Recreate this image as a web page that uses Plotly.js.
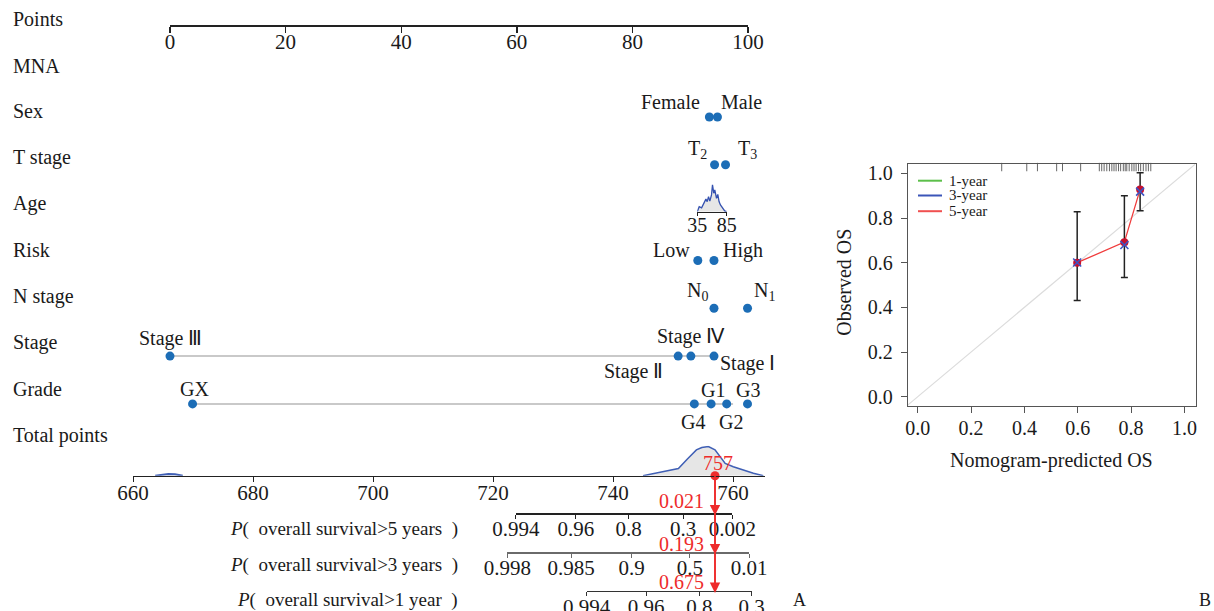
<!DOCTYPE html>
<html>
<head>
<meta charset="utf-8">
<script src="https://cdn.plot.ly/plotly-3.0.1.min.js"></script>
<style>html,body{margin:0;padding:0;background:#fff;}#chart{width:1214px;height:611px;}</style>
</head>
<body>
<div id="chart"></div>
<script>
// ---------------- DATA ----------------
const rowNames = ['Points','MNA','Sex','T stage','Age','Risk','N stage','Stage','Grade','Total points'];
const pointsTicks = [0, 20, 40, 60, 80, 100];

const sexLevels = ['Female', 'Male'];
const sexPoints = [93.3, 94.7];
const tLevels = ['T<sub>2</sub>', 'T<sub>3</sub>'];
const tPoints = [94.2, 96.1];
const riskLevels = ['Low', 'High'];
const riskPoints = [91.3, 94.1];
const nLevels = ['N<sub>0</sub>', 'N<sub>1</sub>'];
const nPoints = [94.1, 99.9];
const stageLevels = ['Stage Ⅲ', 'Stage Ⅱ', 'Stage Ⅳ', 'Stage Ⅰ'];
const stagePoints = [0, 87.9, 90.1, 94.1];
const gradeLevels = ['GX', 'G4', 'G1', 'G2', 'G3'];
const gradePoints = [3.9, 90.7, 93.6, 96.3, 99.9];
const gradeSpan = [3.9, 97.4];

const ageTicks = [35, 85];
const ageAxisPoints = [91.2, 96.3];
const ageGrid = [35, 38.4, 42.4, 46.3, 49.7, 51.9, 54.2, 56.4, 59.2, 60.9, 63.1, 64.8, 67.7, 69.9, 72, 74.4, 77.8, 81.6, 85];
const ageDensity = [0, 0.18, 0.14, 0.30, 0.45, 0.36, 0.54, 0.38, 0.60, 0.96, 0.66, 0.78, 0.48, 0.62, 0.36, 0.24, 0.12, 0.03, 0];

const totalTicks = [660, 680, 700, 720, 740, 760];
const totalDensLowX = [663.7, 665, 665.9, 667, 668.3];
const totalDensLowY = [0, 0.05, 0.06, 0.05, 0];
const totalDensX = [745.0, 747.8, 750.9, 752.4, 753.9, 754.8, 755.9, 757.0, 757.8, 758.7, 760.05, 761.7, 763.4, 765.05];
const totalDensY = [0, 0.11, 0.24, 0.56, 0.86, 0.94, 0.97, 0.86, 0.63, 0.41, 0.30, 0.19, 0.08, 0];

const prob5Labels = ['0.994', '0.96', '0.8', '0.3', '0.002'];
const prob5Points = [723.8, 733.8, 742.6, 751.7, 759.9];
const prob3Labels = ['0.998', '0.985', '0.9', '0.5', '0.01'];
const prob3Points = [722.4, 733.0, 743.1, 752.8, 762.7];
const prob1Labels = ['0.994', '0.96', '0.8', '0.3'];
const prob1Points = [735.6, 745.5, 754.4, 763.1];
const probTitles = ['(  overall survival>5 years  )', '(  overall survival>3 years  )', '(  overall survival>1 year  )'];

const totalScore = 757;
const predictedProbs = [0.021, 0.193, 0.675];

const calPred = [0.598, 0.775, 0.834];
const cal5Obs = [0.600, 0.692, 0.928];
const cal3Obs = [0.601, 0.679, 0.918];
const calLower = [0.431, 0.534, 0.833];
const calUpper = [0.828, 0.900, 1.003];
const rugPred = [0.315, 0.409, 0.449, 0.521, 0.543, 0.611, 0.681, 0.690, 0.699, 0.709, 0.719, 0.728, 0.736, 0.744, 0.753, 0.761, 0.771, 0.778, 0.784, 0.793, 0.803, 0.811, 0.819, 0.828, 0.836, 0.846, 0.856, 0.865, 0.874];
const calTicks = [0, 0.2, 0.4, 0.6, 0.8, 1.0];
const legendNames = ['1-year', '3-year', '5-year'];

// ---------------- LAYOUT HELPERS ----------------
const W = 1214, H = 611;
const X = px => px / W;
const Y = py => 1 - py / H;
const FONT = '"Liberation Serif", "Times New Roman", serif';
const TXT = '#1a1a1a';
const DOT = '#1c6db6';
const PX0 = 170, PXS = 5.781;
const pxPts = p => PX0 + p * PXS;
const TP0 = 660, TPX0 = 133, TPS = 6.0;
const pxTot = t => TPX0 + (t - TP0) * TPS;
const ROW0 = 21.3, ROWS = 47.83;
const rowOf = name => rowNames.indexOf(name);
const STANDOFF = -8;

const labelRowPx = [19, 66, 111, 157, 204, 250, 296, 342.7, 389.3, 435];

const labelPlace = {
  'Female': ['right', -7.6, -15], 'Male': ['left', 2, -15],
  'T<sub>2</sub>': ['right', -6, -15], 'T<sub>3</sub>': ['left', 10, -15],
  'Low': ['right', -6, -10], 'High': ['left', 7, -10],
  'N<sub>0</sub>': ['right', -4, -16.6], 'N<sub>1</sub>': ['left', 4, -16.6],
  'Stage Ⅲ': ['center', 0, -17.7], 'Stage Ⅳ': ['center', 0, -20],
  'Stage Ⅱ': ['right', -13, 15.7], 'Stage Ⅰ': ['left', 4, 7.3],
  'GX': ['center', 2, -15], 'G1': ['center', 1.5, -14], 'G3': ['center', 0, -14],
  'G4': ['center', -1, 17.7], 'G2': ['center', 4, 18.4]
};

const vars = [
  ['Sex', sexLevels, sexPoints],
  ['T stage', tLevels, tPoints],
  ['Risk', riskLevels, riskPoints],
  ['N stage', nLevels, nPoints],
  ['Stage', stageLevels, stagePoints],
  ['Grade', gradeLevels, gradePoints]
];

const traces = [];
const annotations = [];
const shapes = [];

rowNames.forEach((n, i) => {
  annotations.push({text: n, xref: 'paper', yref: 'paper', x: X(11), y: Y(labelRowPx[i]),
    xanchor: 'left', yanchor: 'middle', showarrow: false, font: {family: FONT, size: 20, color: TXT}});
});

traces.push({x: [Math.min(...stagePoints), Math.max(...stagePoints)], y: [rowOf('Stage'), rowOf('Stage')],
  xaxis: 'x', yaxis: 'y', mode: 'lines', line: {color: '#c9c9c9', width: 2}, hoverinfo: 'skip', showlegend: false, cliponaxis: false});
traces.push({x: gradeSpan, y: [rowOf('Grade'), rowOf('Grade')],
  xaxis: 'x', yaxis: 'y', mode: 'lines', line: {color: '#c9c9c9', width: 2}, hoverinfo: 'skip', showlegend: false, cliponaxis: false});

const dx = [], dy = [];
vars.forEach(([name, levels, pts]) => {
  const r = rowOf(name);
  levels.forEach((lv, i) => {
    dx.push(pts[i]); dy.push(r);
    const pl = labelPlace[lv];
    annotations.push({text: lv, xref: 'x', yref: 'y', x: pts[i], y: r, xshift: pl[1], yshift: -pl[2],
      xanchor: pl[0], yanchor: 'middle', showarrow: false, font: {family: FONT, size: 20, color: TXT}});
  });
});
traces.push({x: dx, y: dy, xaxis: 'x', yaxis: 'y', mode: 'markers',
  marker: {color: DOT, size: 9}, hoverinfo: 'skip', showlegend: false, cliponaxis: false});

traces.push({x: ageGrid, y: ageDensity, xaxis: 'x7', yaxis: 'y7', mode: 'lines', fill: 'tozeroy',
  fillcolor: '#e6e6e6', line: {color: '#3552b0', width: 1.3}, hoverinfo: 'skip', showlegend: false});

traces.push({x: totalDensLowX, y: totalDensLowY, xaxis: 'x2', yaxis: 'y2', mode: 'lines', fill: 'tozeroy',
  fillcolor: '#e6e6e6', line: {color: '#3f5fb5', width: 2}, hoverinfo: 'skip', showlegend: false, cliponaxis: false});
traces.push({x: totalDensX, y: totalDensY, xaxis: 'x2', yaxis: 'y2', mode: 'lines', fill: 'tozeroy',
  fillcolor: '#e6e6e6', line: {color: '#3f5fb5', width: 1.5}, hoverinfo: 'skip', showlegend: false, cliponaxis: false});

const probAxes = [
  ['x3', prob5Labels, prob5Points, 513.3, '#222'],
  ['x4', prob3Labels, prob3Points, 552.3, '#6a6a6a'],
  ['x5', prob1Labels, prob1Points, 591.0, '#333']
];
probAxes.forEach(([ax, lab, pts]) => {
  traces.push({x: [pts[0]], y: [0], xaxis: ax, yaxis: 'y', mode: 'markers', marker: {opacity: 0},
    hoverinfo: 'skip', showlegend: false});
});

const totalAxisPy = 475.7;
shapes.push({type: 'line', xref: 'x2', yref: 'paper', x0: totalScore, x1: totalScore,
  y0: Y(totalAxisPy), y1: Y(591), line: {color: '#ee2b2b', width: 1.6}});
traces.push({x: [totalScore], y: [0], xaxis: 'x2', yaxis: 'y2', mode: 'markers',
  marker: {color: '#ee2b2b', size: 9}, hoverinfo: 'skip', showlegend: false, cliponaxis: false});
annotations.push({text: String(totalScore), xref: 'x2', yref: 'paper', x: totalScore, y: Y(463.3), xshift: 3,
  xanchor: 'center', yanchor: 'middle', showarrow: false, font: {family: FONT, size: 20, color: '#ee2b2b'}});
const arrowFrom = [totalAxisPy, 513.3, 552.3];
probAxes.forEach(([ax, lab, pts, py], i) => {
  annotations.push({text: '', xref: 'x2', yref: 'paper', x: totalScore, y: Y(py + 2), showarrow: true,
    ax: 0, ay: -(py + 2 - arrowFrom[i]), axref: 'pixel', ayref: 'pixel', arrowhead: 2, arrowsize: 1.3,
    arrowwidth: 1.6, arrowcolor: '#ee2b2b', standoff: 0, startstandoff: 0});
  const textPy = [501.2, 543.8, 582.3][i];
  annotations.push({text: predictedProbs[i].toFixed(3), xref: 'x2', yref: 'paper', x: totalScore, y: Y(textPy),
    xshift: -9, xanchor: 'right', yanchor: 'middle', showarrow: false, font: {family: FONT, size: 20, color: '#ee2b2b'}});
  annotations.push({text: '<i>P</i>' + probTitles[i], xref: 'paper', yref: 'paper', x: X(460), y: Y([529, 565, 600][i]),
    xanchor: 'right', yanchor: 'middle', showarrow: false, font: {family: FONT, size: 19, color: TXT}});
});

// ---------------- CALIBRATION (panel B) ----------------
shapes.push({type: 'line', xref: 'x6', yref: 'y6', x0: -0.0375, y0: -0.0375, x1: 1.04, y1: 1.04,
  line: {color: '#dcdcdc', width: 1.2}, layer: 'below'});
const calMid = calPred.map((_, i) => (calUpper[i] + calLower[i]) / 2);
traces.push({x: calPred, y: calMid, xaxis: 'x6', yaxis: 'y6', mode: 'markers',
  marker: {opacity: 0}, error_y: {type: 'data', symmetric: false,
    array: calUpper.map((u, i) => u - calMid[i]),
    arrayminus: calLower.map((l, i) => calMid[i] - l),
    color: '#222', thickness: 1.5, width: 3.5}, hoverinfo: 'skip', showlegend: false, cliponaxis: false});
traces.push({x: calPred, y: cal5Obs, xaxis: 'x6', yaxis: 'y6', mode: 'lines+markers',
  line: {color: '#f03c3c', width: 1.3}, marker: {color: '#c8102e', size: 8},
  hoverinfo: 'skip', showlegend: false, cliponaxis: false});
traces.push({x: calPred, y: cal3Obs, xaxis: 'x6', yaxis: 'y6', mode: 'markers',
  marker: {symbol: 'x-thin-open', color: '#3b55c4', size: 8, line: {width: 1.6, color: '#3b55c4'}},
  hoverinfo: 'skip', showlegend: false, cliponaxis: false});
traces.push({x: rugPred, y: rugPred.map(() => 1.028), xaxis: 'x6', yaxis: 'y6', mode: 'markers',
  marker: {symbol: 'line-ns-open', size: 6, color: '#666', line: {width: 1, color: '#666'}},
  hoverinfo: 'skip', showlegend: false, cliponaxis: false});

const legendColors = ['#5cbf4a', '#3b55b8', '#f05050'];
const legendPy = [180.7, 195.5, 211.2];
legendNames.forEach((n, i) => {
  shapes.push({type: 'line', xref: 'paper', yref: 'paper', x0: X(918), x1: X(942), y0: Y(legendPy[i]), y1: Y(legendPy[i]),
    line: {color: legendColors[i], width: 2}});
  annotations.push({text: n, xref: 'paper', yref: 'paper', x: X(947), y: Y(legendPy[i]), xanchor: 'left', yanchor: 'middle',
    showarrow: false, font: {family: FONT, size: 15, color: TXT}});
});
annotations.push({text: 'Nomogram-predicted OS', xref: 'paper', yref: 'paper', x: X(1051.7), y: Y(460),
  xanchor: 'center', yanchor: 'middle', showarrow: false, font: {family: FONT, size: 20, color: TXT}});
annotations.push({text: 'Observed OS', xref: 'paper', yref: 'paper', x: X(843.3), y: Y(282.5), textangle: -90,
  xanchor: 'center', yanchor: 'middle', showarrow: false, font: {family: FONT, size: 20, color: TXT}});
annotations.push({text: 'A', xref: 'paper', yref: 'paper', x: X(800), y: Y(600), xanchor: 'center', yanchor: 'middle',
  showarrow: false, font: {family: FONT, size: 18, color: TXT}});
annotations.push({text: 'B', xref: 'paper', yref: 'paper', x: X(1205), y: Y(600), xanchor: 'center', yanchor: 'middle',
  showarrow: false, font: {family: FONT, size: 18, color: TXT}});

// ---------------- AXES ----------------
const tickFont = {family: FONT, size: 21, color: TXT};
const baseX = {showgrid: false, zeroline: false, showline: true, ticks: 'outside', fixedrange: true};

const layout = {
  width: W, height: H, margin: {l: 0, r: 0, t: 0, b: 0}, paper_bgcolor: '#fff', plot_bgcolor: 'rgba(0,0,0,0)',
  showlegend: false, font: {family: FONT, color: TXT},
  xaxis: Object.assign({}, baseX, {domain: [X(pxPts(0)), X(pxPts(100))], range: [0, 100], anchor: 'free', position: Y(25),
    tickvals: pointsTicks, ticklen: 6, linecolor: '#222', tickcolor: '#222', linewidth: 1.5, tickwidth: 1.3,
    ticklabelstandoff: STANDOFF - 1, tickfont: tickFont}),
  yaxis: {domain: [0, 1], range: [(H - ROW0) / ROWS, -ROW0 / ROWS], visible: false, anchor: 'x', fixedrange: true},
  xaxis2: Object.assign({}, baseX, {domain: [X(TPX0), X(765)], range: [TP0, TP0 + (765 - TPX0) / TPS], anchor: 'y2',
    tickvals: totalTicks, ticklen: 5, linecolor: '#222', tickcolor: '#222', linewidth: 1.3,
    ticklabelstandoff: STANDOFF + 1, tickfont: tickFont}),
  yaxis2: {domain: [Y(totalAxisPy), Y(totalAxisPy - 30)], range: [0, 1], visible: false, anchor: 'x2', fixedrange: true},
  xaxis7: Object.assign({}, baseX, {domain: [X(pxPts(ageAxisPoints[0])), X(pxPts(ageAxisPoints[1]))], range: [ageTicks[0], ageTicks[1]],
    anchor: 'y7', tickvals: ageTicks, ticklen: 3, linecolor: '#222', tickcolor: '#222', linewidth: 1.2,
    ticklabelstandoff: STANDOFF, tickfont: {family: FONT, size: 20, color: TXT}}),
  yaxis7: {domain: [Y(211.7), Y(211.7 - 28)], range: [0, 1], visible: false, anchor: 'x7', fixedrange: true},
  xaxis6: Object.assign({}, baseX, {domain: [X(907.7), X(1195.7)], range: [-0.0375, 1.0424], anchor: 'y6', mirror: true,
    linecolor: '#555', tickcolor: '#555', linewidth: 1, ticklen: 6, tickvals: calTicks, tickformat: '.1f',
    ticklabelstandoff: -2, tickfont: {family: FONT, size: 20, color: TXT}}),
  yaxis6: Object.assign({}, baseX, {domain: [Y(405.7), Y(164)], range: [-0.040, 1.0417], anchor: 'x6', mirror: true,
    linecolor: '#555', tickcolor: '#555', linewidth: 1, ticklen: 6, tickvals: calTicks, tickformat: '.1f',
    ticklabelstandoff: 4, tickfont: {family: FONT, size: 20, color: TXT}}),
  annotations: annotations, shapes: shapes
};
probAxes.forEach(([ax, lab, pts, py, col]) => {
  layout[ax.replace('x', 'xaxis')] = Object.assign({}, baseX, {
    domain: [X(pxTot(pts[0])), X(pxTot(pts[pts.length - 1]))], range: [pts[0], pts[pts.length - 1]],
    anchor: 'free', position: Y(py), tickvals: pts, ticktext: lab, ticklen: 4,
    linecolor: col, tickcolor: col, linewidth: 1.4, ticklabelstandoff: STANDOFF, tickfont: tickFont});
});

Plotly.newPlot('chart', traces, layout, {displayModeBar: false, staticPlot: true});
</script>
</body>
</html>
